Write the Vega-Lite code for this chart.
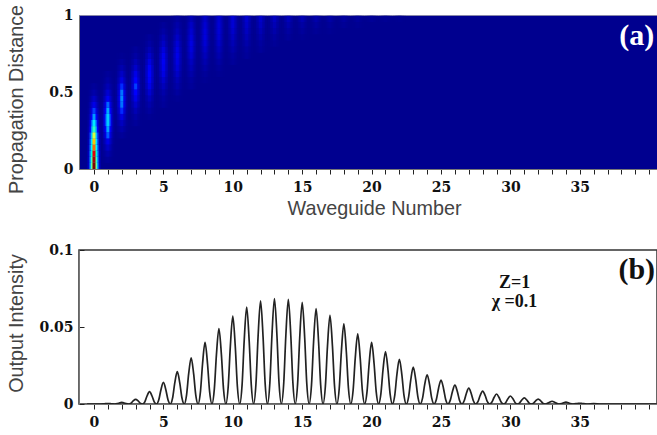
{
"$schema":"https://vega.github.io/schema/vega-lite/v6.json",
"autosize":{"type":"pad"},"padding":{"left":5,"top":3,"right":0,"bottom":0},
"background":"white","spacing":81,"bounds":"flush",
"config":{"axis":{"labelFont":"DejaVu Serif","labelFontWeight":"bold","labelFontSize":14,"labelColor":"#111","titleFont":"Liberation Sans","titleFontWeight":"normal","titleFontSize":19.8,"titleColor":"#444","grid":false,"domainColor":"#777","tickColor":"#222"}},
"datasets":{
"field":[
{"n":0,"a":0,"b":0.04,"v":1},{"n":0,"a":0.04,"b":0.08,"v":0.96},{"n":0,"a":0.08,"b":0.12,"v":0.9},{"n":0,"a":0.12,"b":0.16,"v":0.82},{"n":0,"a":0.16,"b":0.2,"v":0.72},{"n":0,"a":0.2,"b":0.24,"v":0.62},{"n":0,"a":0.24,"b":0.28,"v":0.5},{"n":0,"a":0.28,"b":0.32,"v":0.4},{"n":0,"a":0.32,"b":0.36,"v":0.3},{"n":0,"a":0.36,"b":0.4,"v":0.22},{"n":0,"a":0.4,"b":0.44,"v":0.16},{"n":0,"a":0.44,"b":0.48,"v":0.1},{"n":0,"a":0.48,"b":0.52,"v":0.05},{"n":0,"a":0.52,"b":0.56,"v":0.02},
{"n":1,"a":0.04,"b":0.08,"v":0.02},{"n":1,"a":0.08,"b":0.12,"v":0.05},{"n":1,"a":0.12,"b":0.16,"v":0.1},{"n":1,"a":0.16,"b":0.2,"v":0.16},{"n":1,"a":0.2,"b":0.24,"v":0.24},{"n":1,"a":0.24,"b":0.28,"v":0.31},{"n":1,"a":0.28,"b":0.32,"v":0.36},{"n":1,"a":0.32,"b":0.36,"v":0.36},{"n":1,"a":0.36,"b":0.4,"v":0.32},{"n":1,"a":0.4,"b":0.44,"v":0.25},{"n":1,"a":0.44,"b":0.48,"v":0.18},{"n":1,"a":0.48,"b":0.52,"v":0.12},{"n":1,"a":0.52,"b":0.56,"v":0.07},{"n":1,"a":0.56,"b":0.6,"v":0.04},{"n":1,"a":0.6,"b":0.64,"v":0.02},
{"n":2,"a":0.2,"b":0.24,"v":0.02},{"n":2,"a":0.24,"b":0.28,"v":0.05},{"n":2,"a":0.28,"b":0.32,"v":0.09},{"n":2,"a":0.32,"b":0.36,"v":0.15},{"n":2,"a":0.36,"b":0.4,"v":0.21},{"n":2,"a":0.4,"b":0.44,"v":0.26},{"n":2,"a":0.44,"b":0.48,"v":0.28},{"n":2,"a":0.48,"b":0.52,"v":0.26},{"n":2,"a":0.52,"b":0.56,"v":0.21},{"n":2,"a":0.56,"b":0.6,"v":0.15},{"n":2,"a":0.6,"b":0.64,"v":0.1},{"n":2,"a":0.64,"b":0.68,"v":0.06},{"n":2,"a":0.68,"b":0.72,"v":0.03},{"n":2,"a":0.72,"b":0.76,"v":0.01},
{"n":3,"a":0.28,"b":0.32,"v":0.02},{"n":3,"a":0.32,"b":0.36,"v":0.04},{"n":3,"a":0.36,"b":0.4,"v":0.07},{"n":3,"a":0.4,"b":0.44,"v":0.11},{"n":3,"a":0.44,"b":0.48,"v":0.16},{"n":3,"a":0.48,"b":0.52,"v":0.2},{"n":3,"a":0.52,"b":0.56,"v":0.22},{"n":3,"a":0.56,"b":0.6,"v":0.2},{"n":3,"a":0.6,"b":0.64,"v":0.16},{"n":3,"a":0.64,"b":0.68,"v":0.11},{"n":3,"a":0.68,"b":0.72,"v":0.07},{"n":3,"a":0.72,"b":0.76,"v":0.04},{"n":3,"a":0.76,"b":0.8,"v":0.02},
{"n":4,"a":0.32,"b":0.36,"v":0.01},{"n":4,"a":0.36,"b":0.4,"v":0.03},{"n":4,"a":0.4,"b":0.44,"v":0.05},{"n":4,"a":0.44,"b":0.48,"v":0.08},{"n":4,"a":0.48,"b":0.52,"v":0.12},{"n":4,"a":0.52,"b":0.56,"v":0.16},{"n":4,"a":0.56,"b":0.6,"v":0.19},{"n":4,"a":0.6,"b":0.64,"v":0.2},{"n":4,"a":0.64,"b":0.68,"v":0.19},{"n":4,"a":0.68,"b":0.72,"v":0.15},{"n":4,"a":0.72,"b":0.76,"v":0.11},{"n":4,"a":0.76,"b":0.8,"v":0.07},{"n":4,"a":0.8,"b":0.84,"v":0.04},{"n":4,"a":0.84,"b":0.88,"v":0.02},
{"n":5,"a":0.4,"b":0.44,"v":0.02},{"n":5,"a":0.44,"b":0.48,"v":0.03},{"n":5,"a":0.48,"b":0.52,"v":0.05},{"n":5,"a":0.52,"b":0.56,"v":0.08},{"n":5,"a":0.56,"b":0.6,"v":0.11},{"n":5,"a":0.6,"b":0.64,"v":0.15},{"n":5,"a":0.64,"b":0.68,"v":0.17},{"n":5,"a":0.68,"b":0.72,"v":0.18},{"n":5,"a":0.72,"b":0.76,"v":0.17},{"n":5,"a":0.76,"b":0.8,"v":0.14},{"n":5,"a":0.8,"b":0.84,"v":0.1},{"n":5,"a":0.84,"b":0.88,"v":0.07},{"n":5,"a":0.88,"b":0.92,"v":0.04},{"n":5,"a":0.92,"b":0.96,"v":0.02},
{"n":6,"a":0.44,"b":0.48,"v":0.01},{"n":6,"a":0.48,"b":0.52,"v":0.03},{"n":6,"a":0.52,"b":0.56,"v":0.05},{"n":6,"a":0.56,"b":0.6,"v":0.07},{"n":6,"a":0.6,"b":0.64,"v":0.1},{"n":6,"a":0.64,"b":0.68,"v":0.13},{"n":6,"a":0.68,"b":0.72,"v":0.15},{"n":6,"a":0.72,"b":0.76,"v":0.16},{"n":6,"a":0.76,"b":0.8,"v":0.15},{"n":6,"a":0.8,"b":0.84,"v":0.13},{"n":6,"a":0.84,"b":0.88,"v":0.1},{"n":6,"a":0.88,"b":0.92,"v":0.07},{"n":6,"a":0.92,"b":0.96,"v":0.05},{"n":6,"a":0.96,"b":1,"v":0.03},
{"n":7,"a":0.52,"b":0.56,"v":0.02},{"n":7,"a":0.56,"b":0.6,"v":0.03},{"n":7,"a":0.6,"b":0.64,"v":0.05},{"n":7,"a":0.64,"b":0.68,"v":0.07},{"n":7,"a":0.68,"b":0.72,"v":0.09},{"n":7,"a":0.72,"b":0.76,"v":0.12},{"n":7,"a":0.76,"b":0.8,"v":0.14},{"n":7,"a":0.8,"b":0.84,"v":0.15},{"n":7,"a":0.84,"b":0.88,"v":0.14},{"n":7,"a":0.88,"b":0.92,"v":0.12},{"n":7,"a":0.92,"b":0.96,"v":0.1},{"n":7,"a":0.96,"b":1,"v":0.07},
{"n":8,"a":0.56,"b":0.6,"v":0.01},{"n":8,"a":0.6,"b":0.64,"v":0.02},{"n":8,"a":0.64,"b":0.68,"v":0.04},{"n":8,"a":0.68,"b":0.72,"v":0.06},{"n":8,"a":0.72,"b":0.76,"v":0.08},{"n":8,"a":0.76,"b":0.8,"v":0.1},{"n":8,"a":0.8,"b":0.84,"v":0.125},{"n":8,"a":0.84,"b":0.88,"v":0.14},{"n":8,"a":0.88,"b":0.92,"v":0.135},{"n":8,"a":0.92,"b":0.96,"v":0.12},{"n":8,"a":0.96,"b":1,"v":0.1},
{"n":9,"a":0.6,"b":0.64,"v":0.01},{"n":9,"a":0.64,"b":0.68,"v":0.02},{"n":9,"a":0.68,"b":0.72,"v":0.04},{"n":9,"a":0.72,"b":0.76,"v":0.06},{"n":9,"a":0.76,"b":0.8,"v":0.08},{"n":9,"a":0.8,"b":0.84,"v":0.1},{"n":9,"a":0.84,"b":0.88,"v":0.12},{"n":9,"a":0.88,"b":0.92,"v":0.13},{"n":9,"a":0.92,"b":0.96,"v":0.13},{"n":9,"a":0.96,"b":1,"v":0.12},
{"n":10,"a":0.68,"b":0.72,"v":0.02},{"n":10,"a":0.72,"b":0.76,"v":0.03},{"n":10,"a":0.76,"b":0.8,"v":0.05},{"n":10,"a":0.8,"b":0.84,"v":0.07},{"n":10,"a":0.84,"b":0.88,"v":0.09},{"n":10,"a":0.88,"b":0.92,"v":0.11},{"n":10,"a":0.92,"b":0.96,"v":0.125},{"n":10,"a":0.96,"b":1,"v":0.125},
{"n":11,"a":0.72,"b":0.76,"v":0.02},{"n":11,"a":0.76,"b":0.8,"v":0.03},{"n":11,"a":0.8,"b":0.84,"v":0.05},{"n":11,"a":0.84,"b":0.88,"v":0.07},{"n":11,"a":0.88,"b":0.92,"v":0.09},{"n":11,"a":0.92,"b":0.96,"v":0.105},{"n":11,"a":0.96,"b":1,"v":0.115},
{"n":12,"a":0.76,"b":0.8,"v":0.02},{"n":12,"a":0.8,"b":0.84,"v":0.03},{"n":12,"a":0.84,"b":0.88,"v":0.05},{"n":12,"a":0.88,"b":0.92,"v":0.07},{"n":12,"a":0.92,"b":0.96,"v":0.09},{"n":12,"a":0.96,"b":1,"v":0.105},
{"n":13,"a":0.8,"b":0.84,"v":0.015},{"n":13,"a":0.84,"b":0.88,"v":0.03},{"n":13,"a":0.88,"b":0.92,"v":0.05},{"n":13,"a":0.92,"b":0.96,"v":0.07},{"n":13,"a":0.96,"b":1,"v":0.09},
{"n":14,"a":0.84,"b":0.88,"v":0.02},{"n":14,"a":0.88,"b":0.92,"v":0.035},{"n":14,"a":0.92,"b":0.96,"v":0.055},{"n":14,"a":0.96,"b":1,"v":0.08},
{"n":15,"a":0.84,"b":0.88,"v":0.01},{"n":15,"a":0.88,"b":0.92,"v":0.025},{"n":15,"a":0.92,"b":0.96,"v":0.04},{"n":15,"a":0.96,"b":1,"v":0.065},
{"n":16,"a":0.88,"b":0.92,"v":0.015},{"n":16,"a":0.92,"b":0.96,"v":0.03},{"n":16,"a":0.96,"b":1,"v":0.05},
{"n":17,"a":0.88,"b":0.92,"v":0.01},{"n":17,"a":0.92,"b":0.96,"v":0.02},{"n":17,"a":0.96,"b":1,"v":0.04},
{"n":18,"a":0.92,"b":0.96,"v":0.015},{"n":18,"a":0.96,"b":1,"v":0.03},
{"n":19,"a":0.92,"b":0.96,"v":0.01},{"n":19,"a":0.96,"b":1,"v":0.022},
{"n":20,"a":0.96,"b":1,"v":0.015},{"n":21,"a":0.96,"b":1,"v":0.01},{"n":22,"a":0.96,"b":1,"v":0.006}
],
"profile":[
{"x":-0.5,"y":0},{"x":0.5,"y":0},
{"x":0.67,"y":0.00006},{"x":0.82,"y":0.0002},{"x":1,"y":0.0003},{"x":1.18,"y":0.0002},{"x":1.33,"y":0.00006},{"x":1.5,"y":0},
{"x":1.67,"y":0.0002},{"x":1.82,"y":0.00065},{"x":2,"y":0.001},{"x":2.18,"y":0.00065},{"x":2.33,"y":0.0002},{"x":2.5,"y":0},
{"x":2.67,"y":0.0006},{"x":2.82,"y":0.002},{"x":3,"y":0.003},{"x":3.18,"y":0.002},{"x":3.33,"y":0.0006},{"x":3.5,"y":0},
{"x":3.67,"y":0.0016},{"x":3.82,"y":0.0052},{"x":4,"y":0.008},{"x":4.18,"y":0.0052},{"x":4.33,"y":0.0016},{"x":4.5,"y":0},
{"x":4.67,"y":0.0028},{"x":4.82,"y":0.0091},{"x":5,"y":0.014},{"x":5.18,"y":0.0091},{"x":5.33,"y":0.0028},{"x":5.5,"y":0},
{"x":5.67,"y":0.0042},{"x":5.82,"y":0.0137},{"x":6,"y":0.021},{"x":6.18,"y":0.0137},{"x":6.33,"y":0.0042},{"x":6.5,"y":0},
{"x":6.67,"y":0.006},{"x":6.82,"y":0.0195},{"x":7,"y":0.03},{"x":7.18,"y":0.0195},{"x":7.33,"y":0.006},{"x":7.5,"y":0},
{"x":7.67,"y":0.008},{"x":7.82,"y":0.026},{"x":8,"y":0.04},{"x":8.18,"y":0.026},{"x":8.33,"y":0.008},{"x":8.5,"y":0},
{"x":8.67,"y":0.0098},{"x":8.82,"y":0.0319},{"x":9,"y":0.049},{"x":9.18,"y":0.0319},{"x":9.33,"y":0.0098},{"x":9.5,"y":0},
{"x":9.67,"y":0.0114},{"x":9.82,"y":0.0371},{"x":10,"y":0.057},{"x":10.18,"y":0.0371},{"x":10.33,"y":0.0114},{"x":10.5,"y":0},
{"x":10.67,"y":0.0126},{"x":10.82,"y":0.041},{"x":11,"y":0.063},{"x":11.18,"y":0.041},{"x":11.33,"y":0.0126},{"x":11.5,"y":0},
{"x":11.67,"y":0.0134},{"x":11.82,"y":0.0436},{"x":12,"y":0.067},{"x":12.18,"y":0.0436},{"x":12.33,"y":0.0134},{"x":12.5,"y":0},
{"x":12.67,"y":0.0137},{"x":12.82,"y":0.0445},{"x":13,"y":0.0685},{"x":13.18,"y":0.0445},{"x":13.33,"y":0.0137},{"x":13.5,"y":0},
{"x":13.67,"y":0.0136},{"x":13.82,"y":0.0442},{"x":14,"y":0.068},{"x":14.18,"y":0.0442},{"x":14.33,"y":0.0136},{"x":14.5,"y":0},
{"x":14.67,"y":0.0132},{"x":14.82,"y":0.0429},{"x":15,"y":0.066},{"x":15.18,"y":0.0429},{"x":15.33,"y":0.0132},{"x":15.5,"y":0},
{"x":15.67,"y":0.0124},{"x":15.82,"y":0.0403},{"x":16,"y":0.062},{"x":16.18,"y":0.0403},{"x":16.33,"y":0.0124},{"x":16.5,"y":0},
{"x":16.67,"y":0.0115},{"x":16.82,"y":0.0374},{"x":17,"y":0.0575},{"x":17.18,"y":0.0374},{"x":17.33,"y":0.0115},{"x":17.5,"y":0},
{"x":17.67,"y":0.0104},{"x":17.82,"y":0.0338},{"x":18,"y":0.052},{"x":18.18,"y":0.0338},{"x":18.33,"y":0.0104},{"x":18.5,"y":0},
{"x":18.67,"y":0.0091},{"x":18.82,"y":0.0296},{"x":19,"y":0.0455},{"x":19.18,"y":0.0296},{"x":19.33,"y":0.0091},{"x":19.5,"y":0},
{"x":19.67,"y":0.008},{"x":19.82,"y":0.026},{"x":20,"y":0.04},{"x":20.18,"y":0.026},{"x":20.33,"y":0.008},{"x":20.5,"y":0},
{"x":20.67,"y":0.0068},{"x":20.82,"y":0.0221},{"x":21,"y":0.034},{"x":21.18,"y":0.0221},{"x":21.33,"y":0.0068},{"x":21.5,"y":0},
{"x":21.67,"y":0.0058},{"x":21.82,"y":0.0189},{"x":22,"y":0.029},{"x":22.18,"y":0.0189},{"x":22.33,"y":0.0058},{"x":22.5,"y":0},
{"x":22.67,"y":0.0048},{"x":22.82,"y":0.0156},{"x":23,"y":0.024},{"x":23.18,"y":0.0156},{"x":23.33,"y":0.0048},{"x":23.5,"y":0},
{"x":23.67,"y":0.0038},{"x":23.82,"y":0.0124},{"x":24,"y":0.019},{"x":24.18,"y":0.0124},{"x":24.33,"y":0.0038},{"x":24.5,"y":0},
{"x":24.67,"y":0.0031},{"x":24.82,"y":0.0101},{"x":25,"y":0.0156},{"x":25.18,"y":0.0101},{"x":25.33,"y":0.0031},{"x":25.5,"y":0},
{"x":25.67,"y":0.0025},{"x":25.82,"y":0.008},{"x":26,"y":0.0123},{"x":26.18,"y":0.008},{"x":26.33,"y":0.0025},{"x":26.5,"y":0},
{"x":26.67,"y":0.0021},{"x":26.82,"y":0.0067},{"x":27,"y":0.0103},{"x":27.18,"y":0.0067},{"x":27.33,"y":0.0021},{"x":27.5,"y":0},
{"x":27.67,"y":0.0017},{"x":27.82,"y":0.0055},{"x":28,"y":0.0084},{"x":28.18,"y":0.0055},{"x":28.33,"y":0.0017},{"x":28.5,"y":0},
{"x":28.67,"y":0.0013},{"x":28.82,"y":0.0042},{"x":29,"y":0.0065},{"x":29.18,"y":0.0042},{"x":29.33,"y":0.0013},{"x":29.5,"y":0},
{"x":29.67,"y":0.001},{"x":29.82,"y":0.0034},{"x":30,"y":0.0052},{"x":30.18,"y":0.0034},{"x":30.33,"y":0.001},{"x":30.5,"y":0},
{"x":30.67,"y":0.0008},{"x":30.82,"y":0.0026},{"x":31,"y":0.004},{"x":31.18,"y":0.0026},{"x":31.33,"y":0.0008},{"x":31.5,"y":0},
{"x":31.67,"y":0.0006},{"x":31.82,"y":0.0021},{"x":32,"y":0.0032},{"x":32.18,"y":0.0021},{"x":32.33,"y":0.0006},{"x":32.5,"y":0},
{"x":32.67,"y":0.0004},{"x":32.82,"y":0.0012},{"x":33,"y":0.0018},{"x":33.18,"y":0.0012},{"x":33.33,"y":0.0004},{"x":33.5,"y":0},
{"x":33.67,"y":0.0002},{"x":33.82,"y":0.0008},{"x":34,"y":0.0012},{"x":34.18,"y":0.0008},{"x":34.33,"y":0.0002},{"x":34.5,"y":0},
{"x":34.82,"y":0.0003},{"x":35,"y":0.0005},{"x":35.18,"y":0.0003},{"x":35.5,"y":0},
{"x":36,"y":0.0003},{"x":36.5,"y":0},{"x":40.5,"y":0}
]
},
"vconcat":[
{"width":578,"height":154,
"view":{"fill":"#00008f","stroke":"#8888aa","strokeWidth":1},
"layer":[
{"data":{"name":"field"},"mark":{"type":"bar","width":13},"encoding":{
"x":{"field":"n","type":"quantitative","scale":{"domain":[-1.08,40.56],"nice":false,"zero":false,"padding":0},"axis":{"values":[0,1,2,3,4,5,6,7,8,9,10,11,12,13,14,15,16,17,18,19,20,21,22,23,24,25,26,27,28,29,30,31,32,33,34,35,36,37,38,39,40],"tickCount":50,"labelExpr":"datum.value%5==0&&datum.value<40?datum.label:''","tickSize":5,"labelPadding":6,"labelFlush":false,"labelOverlap":false,"title":"Waveguide Number","titleX":295,"titleY":39,"titleBaseline":"middle"}},
"y":{"field":"a","type":"quantitative","scale":{"domain":[0,1.006],"nice":false},"axis":{"values":[0,0.5,1],"tickSize":0,"labelPadding":6,"title":"Propagation Distance","titleX":-63,"titleY":84,"titleBaseline":"middle","labelExpr":"datum.value==0?'0':datum.value==1?'1':'0.5'","encode":{"labels":{"update":{"dy":{"signal":"datum.value==1?6:datum.value==0?2:4"}}}}}},
"y2":{"field":"b"},
"color":{"field":"v","type":"quantitative","legend":null,"scale":{"domain":[0,2.08,6.25,10.4,14.6,16.7],"range":["#00008f","#0000ff","#00ffff","#ffff00","#ff0000","#800000"],"clamp":true}}}},
{"data":{"name":"field"},"mark":{"type":"bar","width":9},"encoding":{
"x":{"field":"n","type":"quantitative"},"y":{"field":"a","type":"quantitative"},"y2":{"field":"b"},
"color":{"field":"v","type":"quantitative","legend":null,"scale":{"domain":[0,0.5,1.5,2.5,3.5,4],"range":["#00008f","#0000ff","#00ffff","#ffff00","#ff0000","#800000"],"clamp":true}}}},
{"data":{"name":"field"},"mark":{"type":"bar","width":6},"encoding":{
"x":{"field":"n","type":"quantitative"},"y":{"field":"a","type":"quantitative"},"y2":{"field":"b"},
"color":{"field":"v","type":"quantitative","legend":null,"scale":{"domain":[0,0.32,0.8,1.2,1.6,1.82],"range":["#00008f","#0000ff","#00ffff","#ffff00","#ff0000","#800000"],"clamp":true}}}},
{"data":{"name":"field"},"mark":{"type":"bar","width":3},"encoding":{
"x":{"field":"n","type":"quantitative"},"y":{"field":"a","type":"quantitative"},"y2":{"field":"b"},
"color":{"field":"v","type":"quantitative","legend":null,"scale":{"domain":[0,0.2,0.43,0.65,0.875,1],"range":["#00008f","#0000ff","#00ffff","#ffff00","#ff0000","#800000"],"clamp":true}}}},
{"data":{"values":[{"x":39.1,"y":0.87,"t":"(a)"}]},"mark":{"type":"text","font":"Liberation Serif","fontWeight":"bold","fontSize":30,"color":"white"},"encoding":{"x":{"field":"x","type":"quantitative"},"y":{"field":"y","type":"quantitative"},"text":{"field":"t"}}}
],
"resolve":{"scale":{"color":"independent"}}
},
{"width":578,"height":154,
"view":{"fill":"white","stroke":"#333","strokeWidth":1.5},
"layer":[
{"data":{"name":"profile"},"mark":{"type":"line","interpolate":"monotone","color":"#222","strokeWidth":1.7,"clip":true},"encoding":{
"x":{"field":"x","type":"quantitative","scale":{"domain":[-1.08,40.56],"nice":false,"zero":false},"axis":{"values":[0,1,2,3,4,5,6,7,8,9,10,11,12,13,14,15,16,17,18,19,20,21,22,23,24,25,26,27,28,29,30,31,32,33,34,35,36,37,38,39,40],"tickCount":50,"labelExpr":"datum.value%5==0&&datum.value<40?datum.label:''","tickSize":5,"labelPadding":6,"labelOverlap":false,"title":null}},
"y":{"field":"y","type":"quantitative","scale":{"domain":[0,0.1],"nice":false},"axis":{"values":[0,0.05,0.1],"tickSize":-5,"labelPadding":11,"title":"Output Intensity","titleX":-63,"titleY":73,"titleBaseline":"middle","labelExpr":"datum.value==0?'0':datum.value==0.1?'0.1':'0.05'","encode":{"labels":{"update":{"dy":{"signal":"datum.value==0.1?4:2"}}}}}}}},
{"data":{"values":[{"x":39.1,"y":0.087,"t":"(b)"}]},"mark":{"type":"text","font":"Liberation Serif","fontWeight":"bold","fontSize":30,"color":"#111"},"encoding":{"x":{"field":"x","type":"quantitative"},"y":{"field":"y","type":"quantitative"},"text":{"field":"t"}}},
{"data":{"values":[{"x":30.3,"y":0.0786,"t":"Z=1"},{"x":30.3,"y":0.0662,"t":"χ =0.1"}]},"mark":{"type":"text","font":"Liberation Serif","fontWeight":"bold","fontSize":18,"color":"#111"},"encoding":{"x":{"field":"x","type":"quantitative"},"y":{"field":"y","type":"quantitative"},"text":{"field":"t"}}}
]
}
]
}
